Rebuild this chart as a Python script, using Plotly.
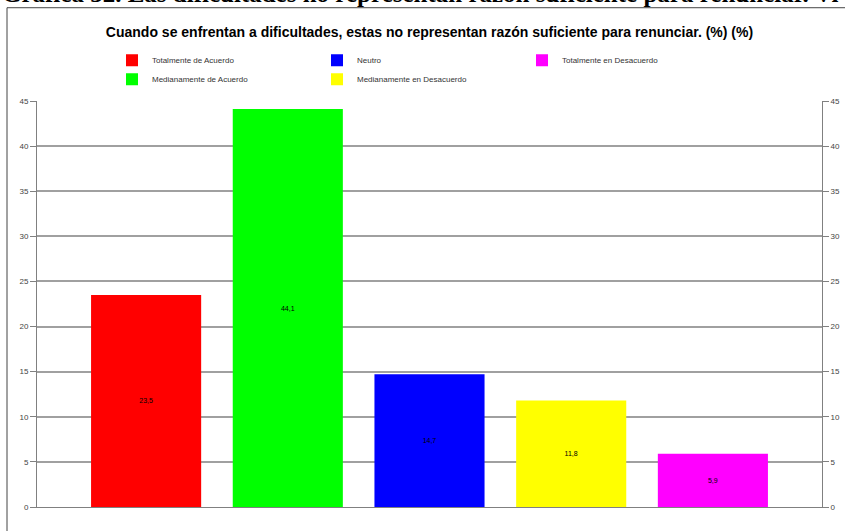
import plotly.graph_objects as go

categories = ["Totalmente de Acuerdo", "Medianamente de Acuerdo", "Neutro",
              "Medianamente en Desacuerdo", "Totalmente en Desacuerdo"]
values = [23.5, 44.1, 14.7, 11.8, 5.9]
labels = ["23,5", "44,1", "14,7", "11,8", "5,9"]
colors = ["#FF0000", "#00FF00", "#0000FF", "#FFFF00", "#FF00FF"]
legend_ranks = [1, 4, 2, 5, 3]
tick_vals = [0, 5, 10, 15, 20, 25, 30, 35, 40, 45]

title = "Cuando se enfrentan a dificultades, estas no representan razón suficiente para renunciar. (%) (%)"
heading = "Gráfica 32. Las dificultades no representan razón suficiente para renunciar. Vi"

W, H = 845, 531
ML, MR, MT, MB = 37, 23, 100.5, 23.5
PW, PH = W - ML - MR, H - MT - MB

fig = go.Figure()
for cat, v, lab, col, rk in zip(categories, values, labels, colors, legend_ranks):
    fig.add_trace(go.Bar(
        x=[cat], y=[v], name=cat, text=[lab],
        marker=dict(color=col, line=dict(width=0)),
        width=0.777, textposition="inside", insidetextanchor="middle",
        textangle=0, textfont=dict(size=7, color="#000000", family="Liberation Sans"),
        legendrank=rk, hoverinfo="x+y",
    ))
# invisible trace to carry the right-hand axis
fig.add_trace(go.Scatter(x=[categories[0]], y=[0], yaxis="y2", mode="markers",
                         marker=dict(opacity=0), showlegend=False, hoverinfo="skip"))

axis_common = dict(range=[0, 45], tickvals=tick_vals, ticks="outside", ticklen=6,
                   tickcolor="#808080", showline=True, linecolor="#808080", linewidth=1,
                   tickfont=dict(size=8, color="#444444", family="Liberation Sans"),
                   zeroline=False, fixedrange=True)

def px_to_paper_x(p):
    return (p - ML) / PW

def px_to_paper_y(p):
    return (H - MB - p) / PH

fig.update_layout(
    width=W, height=H,
    margin=dict(l=ML, r=MR, t=MT, b=MB, autoexpand=False),
    paper_bgcolor="white", plot_bgcolor="white",
    barmode="overlay",
    font=dict(family="Liberation Sans", color="#333333"),
    title=dict(text="<b>" + title + "</b>", x=0.5, xanchor="center", xref="paper",
               y=1 - 32 / H, yanchor="middle",
               font=dict(size=14, color="#000000", family="Liberation Sans")),
    xaxis=dict(type="category", range=[-0.77, 4.77], showticklabels=False, ticks="",
               showline=True, linecolor="#808080", showgrid=False, zeroline=False),
    yaxis=dict(side="left", showgrid=True, gridcolor="#A0A0A0", gridwidth=1.5, **axis_common),
    yaxis2=dict(side="right", overlaying="y", showgrid=False, **axis_common),
    legend=dict(orientation="h", x=px_to_paper_x(112), xanchor="left",
                y=px_to_paper_y(45), yanchor="top",
                entrywidth=160, entrywidthmode="pixels", itemwidth=30,
                traceorder="normal", tracegroupgap=0,
                font=dict(size=8, color="#333333", family="Liberation Sans"),
                bgcolor="rgba(0,0,0,0)"),
    showlegend=True,
)

fig.add_annotation(text="<b>" + heading + "</b>", xref="paper", yref="paper",
                   x=px_to_paper_x(0), y=px_to_paper_y(8.5), xanchor="left", yanchor="bottom",
                   showarrow=False, font=dict(size=25, color="#000000", family="Liberation Serif"))

fig.add_shape(type="rect", xref="paper", yref="paper",
              x0=px_to_paper_x(7), x1=px_to_paper_x(W + 20),
              y0=px_to_paper_y(H + 20), y1=px_to_paper_y(7),
              line=dict(color="#444444", width=1), fillcolor="rgba(0,0,0,0)", layer="below")

fig.write_html("out.html", config={"displayModeBar": False},
               post_script="document.body.style.margin='0';")
